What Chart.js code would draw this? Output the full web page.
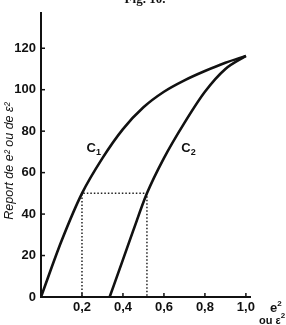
<!DOCTYPE html>
<html><head><meta charset="utf-8">
<script src="https://cdn.jsdelivr.net/npm/chart.js@4.4.1/dist/chart.umd.min.js"></script>
<style>html,body{margin:0;padding:0;background:#fff}#w{width:286px;height:325px}</style>
</head><body><div id="w"><canvas id="c" width="286" height="325"></canvas></div>
<script>
const c1X = [0, 0.1, 0.2, 0.3, 0.4, 0.5, 0.6, 0.7, 0.8, 0.9, 1.0];
const c1Y = [0, 27, 50, 67, 81, 91.5, 99, 104.5, 109, 113, 116.3];
const c2X = [0.335, 0.4, 0.45, 0.517, 0.6, 0.7, 0.8, 0.9, 1.0];
const c2Y = [0, 18, 32, 50, 67, 84, 99, 110, 116.3];
const guideX = [0.2, 0.517];
const guideY = 50;
const xTicks = [0.2, 0.4, 0.6, 0.8, 1.0];
const yTicks = [0, 20, 40, 60, 80, 100, 120];
const curveLabels = ["C", "C"];
const curveSubs = ["1", "2"];
const curveLabelPos = [[0.222, 70], [0.685, 70]];

const pts = (xs, ys) => xs.map((x, i) => ({x, y: ys[i]}));
const fmt = v => v.toFixed(1).replace('.', ',');
const FONT = "'Liberation Sans Narrow','Liberation Sans',Arial,sans-serif";

const deco = {
  id: 'deco',
  afterDraw(chart) {
    const ctx = chart.ctx, xs = chart.scales.x, ys = chart.scales.y;
    const a = chart.chartArea;
    ctx.save();
    ctx.strokeStyle = '#111'; ctx.lineWidth = 1.5;
    xTicks.forEach(v => { const px = xs.getPixelForValue(v); ctx.beginPath(); ctx.moveTo(px, a.bottom); ctx.lineTo(px, a.bottom - 4); ctx.stroke(); });
    yTicks.slice(1).forEach(v => { const py = ys.getPixelForValue(v); ctx.beginPath(); ctx.moveTo(a.left, py); ctx.lineTo(a.left + 4, py); ctx.stroke(); });
    ctx.fillStyle = '#111';
    curveLabels.forEach((t, i) => {
      const px = xs.getPixelForValue(curveLabelPos[i][0]), py = ys.getPixelForValue(curveLabelPos[i][1]);
      ctx.font = "bold 13px " + FONT; ctx.textAlign = 'left'; ctx.textBaseline = 'alphabetic';
      ctx.fillText(t, px, py);
      const w = ctx.measureText(t).width;
      ctx.font = "bold 9px " + FONT;
      ctx.fillText(curveSubs[i], px + w, py + 3);
    });
    // x axis title
    ctx.textAlign = 'left'; ctx.textBaseline = 'alphabetic';
    ctx.font = "bold 13px " + FONT;
    ctx.fillText('e', 270, 312);
    let w = ctx.measureText('e').width;
    ctx.font = "bold 8px " + FONT; ctx.fillText('2', 270 + w, 306);
    ctx.font = "bold 11px " + FONT; ctx.fillText('ou ε', 259, 324);
    w = ctx.measureText('ou ε').width;
    ctx.font = "bold 8px " + FONT; ctx.fillText('2', 259 + w, 318);
    // y axis title
    ctx.save();
    ctx.translate(10, 161); ctx.rotate(-Math.PI / 2);
    ctx.font = "italic 12.5px 'Liberation Sans',Arial,sans-serif"; ctx.textAlign = 'center'; ctx.textBaseline = 'middle';
    ctx.fillText('Report de e² ou de ε²', 0, 0);
    ctx.restore();
    // cut-off figure title
    ctx.font = "bold 13px 'Liberation Serif',serif"; ctx.textAlign = 'center'; ctx.textBaseline = 'alphabetic';
    ctx.fillText('Fig. 10.', 145, 3);
    ctx.restore();
  }
};

new Chart(document.getElementById('c'), {
  type: 'scatter',
  data: {
    datasets: [
      {data: pts(c1X, c1Y), showLine: true, borderColor: '#111', borderWidth: 2.6, pointRadius: 0, cubicInterpolationMode: 'monotone'},
      {data: pts(c2X, c2Y), showLine: true, borderColor: '#111', borderWidth: 2.6, pointRadius: 0, cubicInterpolationMode: 'monotone'},
      {data: [{x: guideX[0], y: 0}, {x: guideX[0], y: guideY}, {x: guideX[1], y: guideY}, {x: guideX[1], y: 0}], showLine: true, borderColor: '#222', borderWidth: 1.5, borderDash: [1.5, 2], pointRadius: 0}
    ]
  },
  options: {
    responsive: false, animation: false,
    layout: {padding: {left: 0, right: 36, top: 13, bottom: 8}},
    plugins: {legend: {display: false}, tooltip: {enabled: false}},
    scales: {
      x: {type: 'linear', min: 0, max: 1.02,
        afterFit(s) { s.height = 20; },
        afterBuildTicks(s) { s.ticks = xTicks.map(v => ({value: v})); },
        grid: {display: true, drawOnChartArea: false, drawTicks: false},
        border: {display: true, color: '#111', width: 2},
        ticks: {padding: 3, color: '#111', font: {family: FONT, size: 13, weight: 'bold'}, callback: v => fmt(v), maxRotation: 0}
      },
      y: {type: 'linear', min: 0, max: 137,
        afterFit(s) { s.width = 41; },
        afterBuildTicks(s) { s.ticks = yTicks.map(v => ({value: v})); },
        grid: {display: true, drawOnChartArea: false, drawTicks: false},
        border: {display: true, color: '#111', width: 2},
        ticks: {padding: 5, color: '#111', font: {family: FONT, size: 13, weight: 'bold'}, callback: v => String(v)}
      }
    }
  },
  plugins: [deco]
});
</script></body></html>
